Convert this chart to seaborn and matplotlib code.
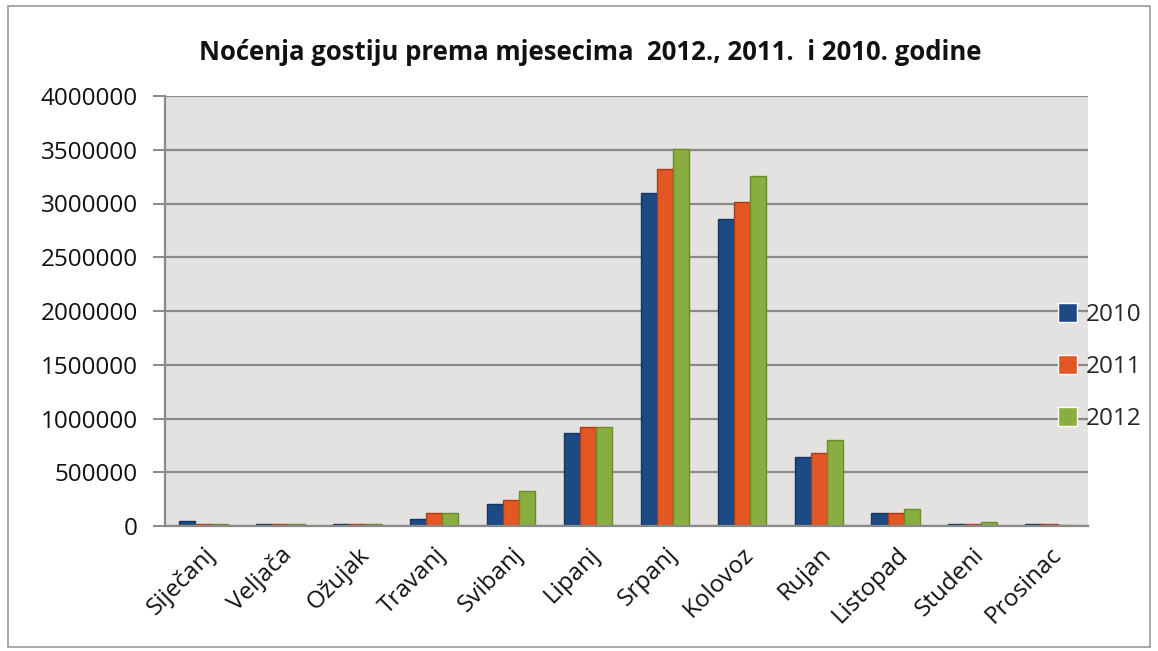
import numpy as np
import pandas as pd
import matplotlib
matplotlib.use("Agg")
import matplotlib.pyplot as plt
from matplotlib.patches import Rectangle
import seaborn as sns

# data
months = ['Siječanj', 'Veljača', 'Ožujak', 'Travanj', 'Svibanj', 'Lipanj',
          'Srpanj', 'Kolovoz', 'Rujan', 'Listopad', 'Studeni', 'Prosinac']
years = ['2010', '2011', '2012']
nights_2010 = [44000, 22000, 20000, 66000, 206000, 865000,
               3100000, 2856000, 644000, 118000, 19000, 15000]
nights_2011 = [19000, 22000, 20000, 122000, 244000, 922000,
               3318000, 3011000, 681000, 118000, 19000, 15000]
nights_2012 = [19000, 20000, 18000, 122000, 322000, 922000,
               3510000, 3253000, 799000, 158000, 40000, 13000]
y_ticks = [0, 500000, 1000000, 1500000, 2000000, 2500000, 3000000, 3500000, 4000000]

colors = ['#1d4a84', '#e25724', '#8aad3f']
edge_colors = ['#143661', '#a83c18', '#6b8a2c']

df = pd.DataFrame({
    'mjesec': months * 3,
    'nocenja': nights_2010 + nights_2011 + nights_2012,
    'godina': [y for y in years for _ in months],
})

sns.set_style('white')
plt.rcParams['font.family'] = ['Open Sans', 'DejaVu Sans']

fig = plt.figure(figsize=(11.58, 6.51), dpi=100)
ax = fig.add_axes([165 / 1158, 1 - 526 / 651, 923 / 1158, 430 / 651])

sns.barplot(data=df, x='mjesec', y='nocenja', hue='godina', order=months,
            hue_order=years, palette=colors, saturation=1, width=0.63,
            linewidth=1, ax=ax)
for cont, ec in zip(ax.containers, edge_colors):
    for bar in cont:
        bar.set_edgecolor(ec)

ax.set_facecolor('#e3e2e1')
ax.set_axisbelow(True)
ax.set_ylim(0, 4000000)
ax.set_xlim(-0.5, len(months) - 0.5)
ax.set_yticks(y_ticks)
ax.set_yticklabels([str(v) for v in y_ticks], fontsize=17.5, color='#111111')
ax.yaxis.grid(True, color='#8a8a8a', linewidth=1.6)
ax.xaxis.grid(False)
ax.set_xlabel('')
ax.set_ylabel('')

# labels at group centres, tick marks between groups
ax.set_xticks(np.arange(len(months)))
ax.set_xticklabels(months, rotation=45, ha='right', rotation_mode='anchor',
                   fontsize=17.5, color='#111111')
ax.set_xticks(np.arange(-0.5, len(months)), minor=True)
ax.tick_params(axis='x', which='major', length=0, pad=12)
ax.tick_params(axis='x', which='minor', length=6, width=1.4, color='#8a8a8a')
ax.tick_params(axis='y', length=8.6, width=1.4, color='#8a8a8a', left=True, pad=11)

for side in ['top', 'right']:
    ax.spines[side].set_visible(False)
for side in ['left', 'bottom']:
    ax.spines[side].set_color('#8a8a8a')
    ax.spines[side].set_linewidth(1.6)

leg = ax.legend(loc='center left', bbox_to_anchor=(0.967, 0.37), frameon=False,
                fontsize=17.5, handlelength=0.8, handleheight=0.8,
                handletextpad=0.35, labelspacing=1.15, borderpad=0,
                borderaxespad=0)

fig.text(0.51, 1 - 52 / 651, 'Noćenja gostiju prema mjesecima  2012., 2011.  i 2010. godine',
         ha='center', va='center', fontsize=18.5, fontweight='bold',
         family=['Open Sans', 'DejaVu Sans'], color='#111111')

# thin frame around the whole chart
fig.patches.append(Rectangle((8 / 1158, 4 / 651), 1142 / 1158, 641 / 651,
                             transform=fig.transFigure, fill=False,
                             edgecolor='#9a9a9a', linewidth=1.2))

fig.savefig('out.png', dpi=100)
